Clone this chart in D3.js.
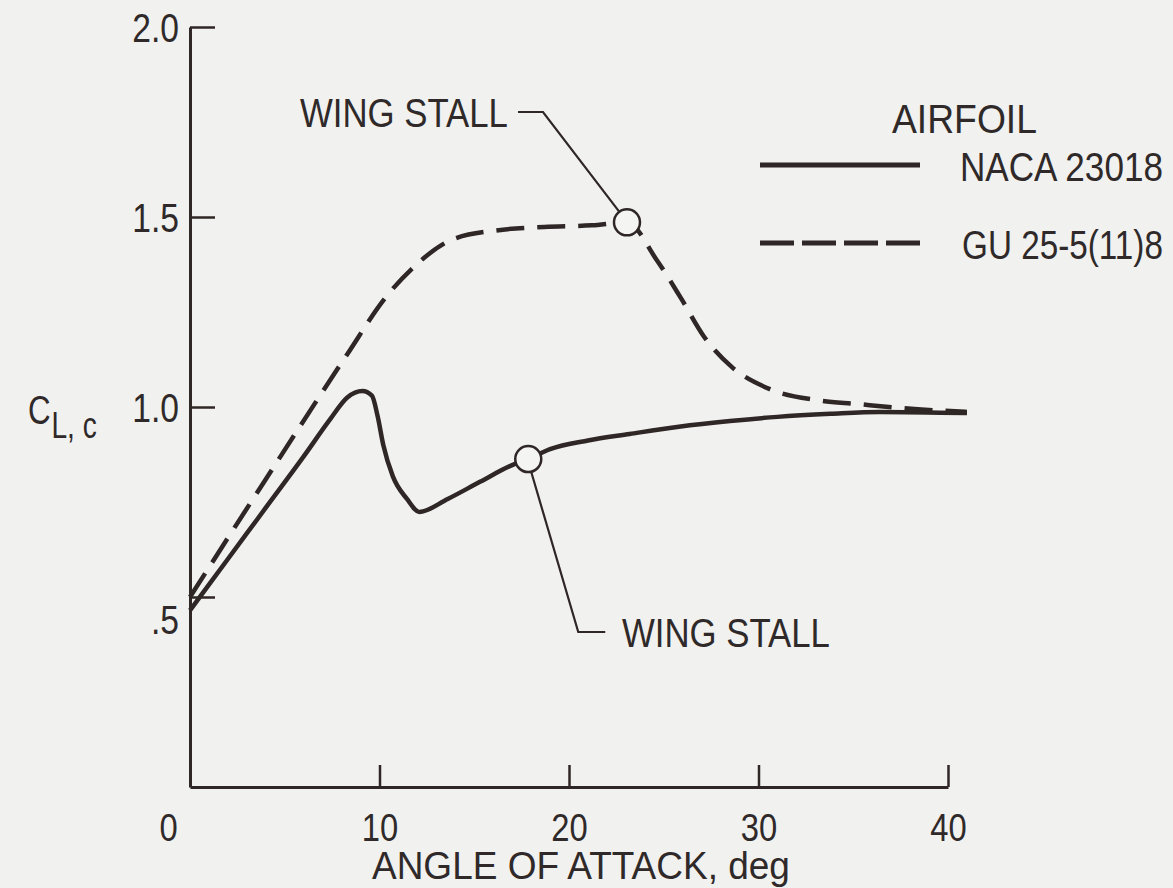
<!DOCTYPE html>
<html>
<head>
<meta charset="utf-8">
<script src="https://cdn.jsdelivr.net/npm/d3@7"></script>
<style>
  html, body { margin: 0; padding: 0; background: #f1f1ef; }
  svg { display: block; }
  text { font-family: "Liberation Sans", Arial, "DejaVu Sans", sans-serif; fill: #2f2929; }
</style>
</head>
<body>
<svg id="chart" width="1173" height="888"></svg>
<script>
// Section lift coefficient vs. angle of attack for two airfoils
const nacaAlpha = [0, 2, 4, 6, 7.4, 8.3, 9.1, 9.6, 9.9, 10.2, 10.7, 11.45, 12.1, 13.6, 15.3, 17.0, 17.85, 19.0, 21.0, 23.2, 25.8, 28.5, 31.0, 33.8, 36.4, 41.0];
const nacaCl    = [0.465, 0.60, 0.735, 0.87, 0.968, 1.025, 1.042, 1.03, 0.976, 0.90, 0.818, 0.758, 0.724, 0.758, 0.803, 0.847, 0.863, 0.889, 0.912, 0.929, 0.948, 0.963, 0.974, 0.982, 0.987, 0.984];

const guAlpha = [0, 4, 8.3, 10.3, 11.8, 13.9, 16.4, 18.7, 21.2, 23.06, 24.6, 25.9, 27.1, 28.6, 30.6, 33.1, 35.2, 37.6, 41.0];
const guCl    = [0.50, 0.81, 1.139, 1.287, 1.368, 1.442, 1.466, 1.474, 1.478, 1.486, 1.389, 1.287, 1.187, 1.105, 1.047, 1.018, 1.008, 0.997, 0.987];

// Wing stall points marked on each curve
const stallAlpha = [17.85, 23.06];
const stallCl    = [0.863, 1.486];

const xTicks = [0, 10, 20, 30, 40];
const xTickLabels = ["0", "10", "20", "30", "40"];
const yTicks = [0.5, 1.0, 1.5, 2.0];
const yTickLabels = [".5", "1.0", "1.5", "2.0"];

const seriesNames = ["NACA 23018", "GU 25-5(11)8"];

const INK = "#2f2626";
const NARROW = 0.84;
const svg = d3.select("#chart");

// Condense axis tick text horizontally to a narrow face
function narrow(sel) {
  sel.each(function () {
    const w = this.getComputedTextLength() * NARROW;
    d3.select(this).attr("textLength", w).attr("lengthAdjust", "spacingAndGlyphs");
  });
}

// Place a free text at (x, baseline y), squeezed to a given width
function placeText(sel, px, py, width) {
  sel.attr("x", 0).attr("y", 0);
  const len = sel.node().getComputedTextLength();
  sel.attr("transform", `translate(${px},${py}) scale(${width / len},1)`);
  return sel;
}

const x = d3.scaleLinear().domain([0, 40]).range([190, 948]);
const y = d3.scaleLinear().domain([0, 2]).range([787, 27]);

// Y axis: ticks point into the plot
const yAxis = d3.axisLeft(y)
  .tickValues(yTicks)
  .tickFormat((d, i) => yTickLabels[i])
  .tickSizeInner(-25)
  .tickSizeOuter(0)
  .tickPadding(11);

const gy = svg.append("g").attr("transform", `translate(${x(0)},0)`).call(yAxis);
gy.select(".domain").attr("stroke", INK).attr("stroke-width", 3);
gy.selectAll(".tick line").attr("stroke", INK).attr("stroke-width", 2.5);
gy.selectAll(".tick text")
  .attr("font-size", 40)
  .attr("fill", "#2f2929")
  .style("font-family", "inherit")
  .attr("dy", (d) => d === 0.5 ? "0.9em" : "0.36em")
  .call(narrow);

// X axis: ticks point upward
const xAxis = d3.axisBottom(x)
  .tickValues(xTicks)
  .tickFormat((d, i) => xTickLabels[i])
  .tickSizeInner(-22)
  .tickSizeOuter(0)
  .tickPadding(26);

const gx = svg.append("g").attr("transform", `translate(0,${y(0)})`).call(xAxis);
gx.select(".domain").attr("stroke", INK).attr("stroke-width", 3);
gx.selectAll(".tick line").attr("stroke", INK).attr("stroke-width", 2.5)
  .filter((d) => d === 0).remove();
gx.selectAll(".tick text")
  .attr("font-size", 39)
  .attr("fill", "#2f2929")
  .style("font-family", "inherit")
  .attr("dx", (d) => d === 0 ? -22 : 0)
  .call(narrow);

// Axis titles
svg.append("text")
  .attr("font-size", 39)
  .text("ANGLE OF ATTACK, deg")
  .call(placeText, 372, 879, 418);

const yTitle = svg.append("text").attr("font-size", 40);
yTitle.append("tspan").text("C");
yTitle.append("tspan").attr("dy", 14).attr("dx", 1).attr("font-size", 36).text("L, c");
yTitle.call(placeText, 28, 424, 68);

// Curves
const line = d3.line()
  .x((d) => x(d[0]))
  .y((d) => y(d[1]))
  .curve(d3.curveMonotoneX);

const nacaData = nacaAlpha.map((a, i) => [a, nacaCl[i]]);
const guData = guAlpha.map((a, i) => [a, guCl[i]]);

svg.append("path")
  .datum(guData)
  .attr("d", line)
  .attr("fill", "none")
  .attr("stroke", INK)
  .attr("stroke-width", 4.5)
  .attr("stroke-dasharray", "28,13");

svg.append("path")
  .datum(nacaData)
  .attr("d", line)
  .attr("fill", "none")
  .attr("stroke", INK)
  .attr("stroke-width", 4.5)
  .attr("stroke-linejoin", "round");

// Wing stall leaders and labels
const lower = [x(stallAlpha[0]), y(stallCl[0])];
const upper = [x(stallAlpha[1]), y(stallCl[1])];

svg.append("path")
  .attr("d", `M${lower[0] + 3},${lower[1] + 13} L${lower[0] + 50},632 L${lower[0] + 77},632`)
  .attr("fill", "none").attr("stroke", INK).attr("stroke-width", 2.2);
svg.append("text")
  .attr("font-size", 41)
  .text("WING STALL")
  .call(placeText, 622, 647, 208);

svg.append("path")
  .attr("d", `M518,112 L543,112 L${upper[0] - 8},${upper[1] - 11}`)
  .attr("fill", "none").attr("stroke", INK).attr("stroke-width", 2.2);
svg.append("text")
  .attr("font-size", 41)
  .text("WING STALL")
  .call(placeText, 300, 127, 208);

svg.selectAll("circle.stall")
  .data(stallAlpha.map((a, i) => [a, stallCl[i]]))
  .join("circle")
  .attr("class", "stall")
  .attr("cx", (d) => x(d[0]))
  .attr("cy", (d) => y(d[1]))
  .attr("r", 13)
  .attr("fill", "#f4f4f2")
  .attr("stroke", INK)
  .attr("stroke-width", 2.5);

// Legend
svg.append("text")
  .attr("font-size", 41)
  .text("AIRFOIL")
  .call(placeText, 892, 133, 145);

const legend = svg.append("g");
const legendRows = seriesNames.map((name, i) => ({
  name, dashed: i === 1, yy: i === 0 ? 165 : 243, w: i === 0 ? 203 : 201, tx: i === 0 ? 960 : 962
}));
legend.selectAll("line")
  .data(legendRows)
  .join("line")
  .attr("x1", 760).attr("x2", 920)
  .attr("y1", (d) => d.yy).attr("y2", (d) => d.yy)
  .attr("stroke", INK)
  .attr("stroke-width", 5)
  .attr("stroke-dasharray", (d) => d.dashed ? "34,8" : null);
legend.selectAll("text")
  .data(legendRows)
  .join("text")
  .attr("font-size", 40)
  .text((d) => d.name)
  .each(function (d) { placeText(d3.select(this), d.tx, d.yy + 16, d.w); });
</script>
</body>
</html>
